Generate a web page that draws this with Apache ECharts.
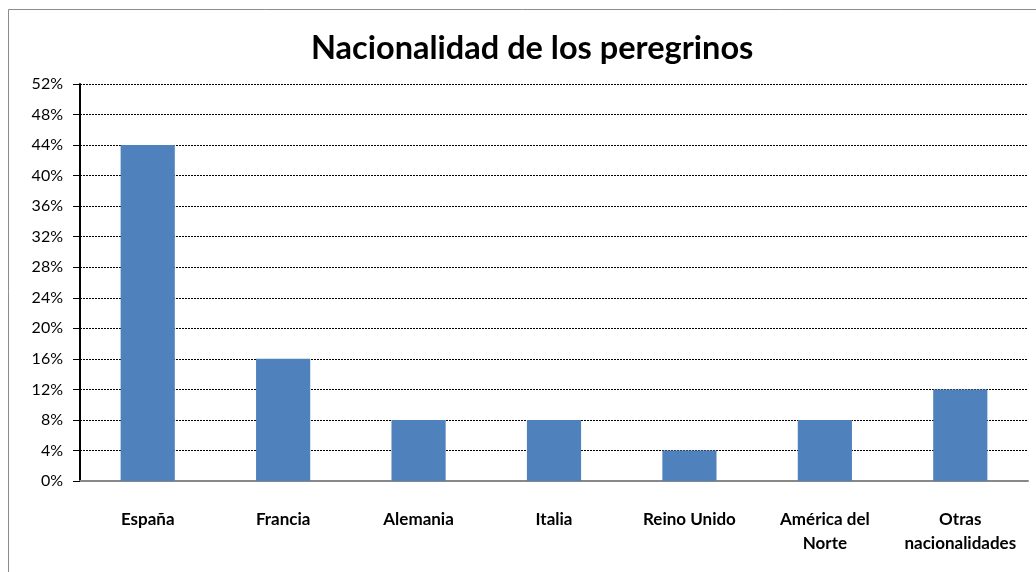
<!DOCTYPE html>
<html><head><meta charset="utf-8">
<script src="https://cdn.jsdelivr.net/npm/echarts@6/dist/echarts.min.js"></script>
<style>html,body{margin:0;padding:0;background:#fff}#c{width:1036px;height:572px}</style>
</head><body><div id="c"></div>
<script>
const categories = ['España','Francia','Alemania','Italia','Reino Unido','América del\nNorte','Otras\nnacionalidades'];
const values = [44,16,8,8,4,8,12];
const yMin = 0, yMax = 52, yStep = 4;
const titleText = 'Nacionalidad de los peregrinos';
const chart = echarts.init(document.getElementById('c'));
chart.setOption({
  animation:false,
  backgroundColor:'#fff',
  title:{text:titleText,left:306,top:27,textStyle:{fontFamily:'Lato',fontWeight:'bold',fontSize:32.5,color:'#000'}},
  graphic:[{type:'rect',shape:{x:8.5,y:9.5,width:1100,height:1000},style:{fill:'none',stroke:'#8c8c8c',lineWidth:1},silent:true}],
  grid:{left:80,right:8,top:84,bottom:91},
  xAxis:{type:'category',data:categories,
    axisLine:{lineStyle:{color:'#888',width:2}},
    axisTick:{inside:true,length:6,lineStyle:{color:'#888',width:1}},
    axisLabel:{interval:0,hideOverlap:false,margin:27,fontFamily:'Lato',fontWeight:'bold',fontSize:17,color:'#000',lineHeight:24}},
  yAxis:{type:'value',min:yMin,max:yMax,interval:yStep,
    axisLine:{show:true,lineStyle:{color:'#000',width:2}},
    axisTick:{show:true,length:7,lineStyle:{color:'#000',width:1}},
    axisLabel:{formatter:'{value}%',margin:17,fontFamily:'Lato',fontSize:16,color:'#000'},
    splitLine:{lineStyle:{color:'#000',type:[2,1],width:1}}},
  series:[{type:'bar',data:values,barWidth:'40%',itemStyle:{color:'#4F81BD'}}]
});
</script></body></html>
